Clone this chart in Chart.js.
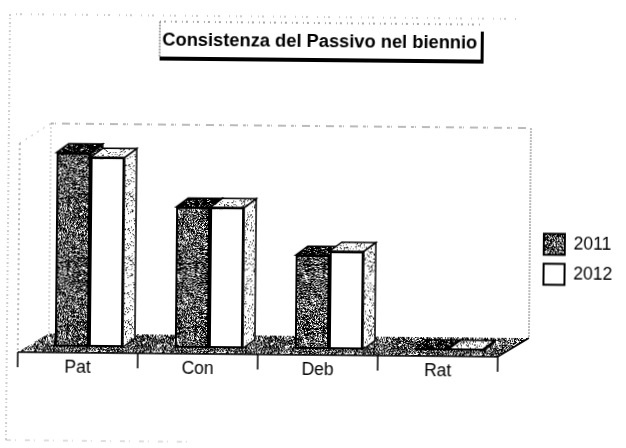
<!DOCTYPE html>
<html>
<head>
<meta charset="utf-8">
<script src="https://cdn.jsdelivr.net/npm/chart.js@4"></script>
<style>
  html, body { margin: 0; padding: 0; background: #fff; overflow: hidden; }
  #chart { display: block; transform: rotate(0.55deg); }
</style>
</head>
<body>
<canvas id="chart" width="626" height="448"></canvas>
<script>
const categories = ['Pat', 'Con', 'Deb', 'Rat'];
const seriesNames = ['2011', '2012'];
const values2011 = [89, 64.5, 43, 0.6];
const values2012 = [87, 64.5, 45, 0.6];
const titleText = 'Consistenza del Passivo nel biennio';

const FONT = '"Liberation Sans", Arial, sans-serif';
const DEPTH_X = 12, DEPTH_Y = -9;

// scanned-looking speckle, mix = [black, grey] share of pixels
function speckle(mix) {
    const tile = document.createElement('canvas');
    tile.width = tile.height = 64;
    const c = tile.getContext('2d');
    let seed = 12345;
    for (let y = 0; y < 64; y++) {
        for (let x = 0; x < 64; x++) {
            seed = (seed * 1103515245 + 12345) & 0x7fffffff;
            const n = (seed >> 8) % 100;
            c.fillStyle = n < mix[0] ? '#000' : n < mix[0] + mix[1] ? '#6f6f6f' : '#fff';
            c.fillRect(x, y, 1, 1);
        }
    }
    return c.createPattern(tile, 'repeat');
}
const darkFill = speckle([42, 38]);
const darkTop = speckle([80, 10]);
const floorFill = speckle([42, 33]);
const lightSide = speckle([6, 12]);

function poly(ctx, pts, fill, stroke, width) {
    ctx.beginPath();
    pts.forEach((p, i) => i ? ctx.lineTo(p[0], p[1]) : ctx.moveTo(p[0], p[1]));
    ctx.closePath();
    if (fill) { ctx.fillStyle = fill; ctx.fill(); }
    if (stroke) { ctx.strokeStyle = stroke; ctx.lineWidth = width; ctx.stroke(); }
}

function dotted(ctx, x1, y1, x2, y2, dash, color) {
    ctx.save();
    ctx.setLineDash(dash);
    ctx.strokeStyle = color;
    ctx.lineWidth = 1;
    ctx.beginPath();
    ctx.moveTo(x1, y1);
    ctx.lineTo(x2, y2);
    ctx.stroke();
    ctx.restore();
}

const scene3d = {
    id: 'scene3d',
    afterLayout(chart) {
        // legend and title sit where the original put them, outside the plot box
        const l = chart.legend;
        l.left = 535; l.right = 626; l.top = 222; l.bottom = 292;
        const t = chart.titleBlock;
        t.left = 0; t.right = 636;
    },
    beforeDraw(chart) {
        const ctx = chart.ctx, area = chart.chartArea;
        const left = area.left - 11, right = area.right - 11, floorY = area.bottom + 6;
        ctx.save();
        ctx.fillStyle = '#fff';
        ctx.fillRect(0, 0, chart.width, chart.height);

        // outer frame of the scanned page
        const faint = '#9a9a9a';
        dotted(ctx, 14, 17, 516, 17, [1, 3, 2, 9, 1, 6], faint);
        dotted(ctx, 8, 17, 8, 443, [2, 2, 1, 3], faint);
        dotted(ctx, 8, 443, 190, 443, [5, 4, 1, 9], '#c0c0c0');

        // title box with its drop shadow
        dotted(ctx, 158, 23, 480, 23, [1, 3, 2, 5], '#555');
        dotted(ctx, 158, 23, 158, 58, [2, 1], '#555');
        ctx.fillStyle = '#000';
        ctx.fillRect(158, 58, 324, 4);
        ctx.fillRect(479, 30, 3, 32);

        // walls
        const wall = '#777';
        dotted(ctx, 50, 126, 530, 126, [3, 1, 1, 6, 8, 5], wall);
        dotted(ctx, 530, 126, 530, floorY - 19, [2, 1], wall);
        dotted(ctx, 50, 126, 50, floorY - 19, [1, 3], wall);
        dotted(ctx, 19, 146, 50, 126, [1, 6], wall);
        dotted(ctx, 19, 146, 19, floorY, [2, 3], wall);

        // floor, then front axis with tick marks
        poly(ctx, [[left, floorY], [left + 31, floorY - 19], [right + 31, floorY - 19], [right, floorY]], floorFill);
        ctx.strokeStyle = '#000';
        ctx.lineWidth = 1.5;
        ctx.beginPath();
        ctx.moveTo(left, floorY);
        ctx.lineTo(right, floorY);
        ctx.lineTo(right + 31, floorY - 19);
        for (let i = 0; i <= categories.length; i++) {
            const tx = left + (right - left) * i / categories.length;
            ctx.moveTo(tx, floorY);
            ctx.lineTo(tx, floorY + 15);
        }
        ctx.stroke();
        ctx.restore();
    },
    beforeDatasetsDraw(chart) {
        const ctx = chart.ctx;
        chart.data.datasets.forEach((ds, d) => {
            chart.getDatasetMeta(d).data.forEach(bar => {
                const half = bar.width / 2;
                const l = bar.x - half, r = bar.x + half, t = bar.y, b = bar.base;
                const top = [[l, t], [l + DEPTH_X, t + DEPTH_Y], [r + DEPTH_X, t + DEPTH_Y], [r, t]];
                const side = [[r, t], [r + DEPTH_X, t + DEPTH_Y], [r + DEPTH_X, b + DEPTH_Y], [r, b]];
                poly(ctx, side, d ? lightSide : darkFill, '#000', 1.5);
                poly(ctx, top, d ? lightSide : darkTop, '#000', 1.5);
            });
        });
    }
};

new Chart(document.getElementById('chart'), {
    type: 'bar',
    data: {
        labels: categories,
        datasets: [
            { label: seriesNames[0], data: values2011, backgroundColor: darkFill, borderColor: '#000', borderWidth: 2, borderSkipped: false },
            { label: seriesNames[1], data: values2012, backgroundColor: '#fff', borderColor: '#000', borderWidth: 2, borderSkipped: false }
        ]
    },
    options: {
        responsive: false,
        animation: false,
        events: [],
        layout: { padding: { left: 30, right: 116, bottom: 56 } },
        categoryPercentage: 0.567,
        barPercentage: 1,
        scales: {
            x: {
                grid: { display: false, drawTicks: false },
                border: { display: false },
                ticks: { color: '#000', font: { family: FONT, size: 17.5 }, padding: 11, labelOffset: -11, maxRotation: 0 }
            },
            y: { display: false, min: 0, max: 100 }
        },
        plugins: {
            title: {
                display: true,
                text: titleText,
                color: '#000',
                font: { family: FONT, size: 18.3, weight: 'bold' },
                padding: { top: 31, bottom: 78 }
            },
            legend: {
                position: 'chartArea',
                labels: { color: '#000', font: { family: FONT, size: 17.5 }, boxWidth: 21, boxHeight: 21, padding: 9 }
            },
            tooltip: { enabled: false }
        }
    },
    plugins: [scene3d]
});
</script>
</body>
</html>
